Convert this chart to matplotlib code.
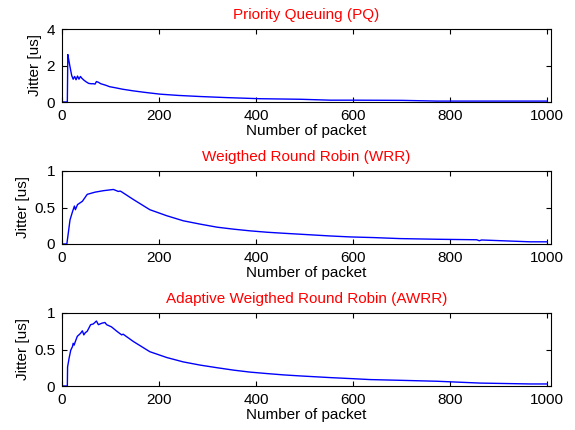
import numpy as np
import matplotlib
matplotlib.use('Agg')
import matplotlib.pyplot as plt

plt.rcParams['font.family'] = ['Liberation Sans', 'DejaVu Sans']
plt.rcParams['font.size'] = 11

# values (packet index, jitter in us)
pq_x = [0, 11, 12, 13, 16, 20, 23, 26, 29, 32, 35, 38, 41, 45, 50, 55, 60, 65, 68, 71,
        75, 80, 90, 98, 110, 125, 147, 170, 202, 240, 285, 340, 408, 491, 553, 600,
        700, 773, 850, 1000]
pq_y = [0, 0, 2.6, 2.45, 2.0, 1.45, 1.25, 1.4, 1.22, 1.42, 1.25, 1.4, 1.3, 1.2, 1.1, 1.02,
        1.0, 1.0, 0.98, 1.12, 1.08, 1.0, 0.92, 0.84, 0.78, 0.7, 0.61, 0.53, 0.43, 0.36,
        0.3, 0.24, 0.18, 0.15, 0.1, 0.1, 0.09, 0.05, 0.05, 0.05]

wrr_x = [0, 10, 12, 16.5, 22, 25.6, 27.6, 32, 42, 52, 68, 85, 106, 116, 120, 123, 147,
         181, 216, 250, 285, 320, 354, 388, 423, 457, 491, 553, 594, 642, 697, 773,
         855, 860, 865, 965, 1000]
wrr_y = [0, 0, 0.1, 0.33, 0.45, 0.52, 0.47, 0.54, 0.585, 0.68, 0.71, 0.73, 0.747, 0.72,
         0.725, 0.714, 0.61, 0.47, 0.387, 0.318, 0.272, 0.23, 0.203, 0.18, 0.161, 0.147,
         0.134, 0.11, 0.097, 0.088, 0.074, 0.065, 0.058, 0.045, 0.055, 0.03, 0.03]

awrr_x = [0, 11, 11.5, 14.6, 18, 21.6, 23, 25, 27, 31.5, 38, 42, 45, 48, 52, 59, 64.5,
          71, 75, 82, 88.5, 92, 102, 113, 123, 126, 147, 181, 216, 250, 285, 320, 354,
          388, 423, 457, 491, 553, 600, 635, 697, 773, 862, 965, 1000]
awrr_y = [0, 0, 0.26, 0.38, 0.49, 0.54, 0.585, 0.56, 0.6, 0.68, 0.72, 0.756, 0.7, 0.73,
          0.75, 0.84, 0.85, 0.89, 0.84, 0.86, 0.87, 0.84, 0.81, 0.75, 0.7, 0.71, 0.61,
          0.47, 0.39, 0.33, 0.286, 0.25, 0.217, 0.19, 0.17, 0.152, 0.138, 0.115, 0.1,
          0.088, 0.078, 0.065, 0.04, 0.028, 0.028]

titles = ['Priority Queuing (PQ)', 'Weigthed Round Robin (WRR)',
          'Adaptive Weigthed Round Robin (AWRR)']
yticks = [[0, 2, 4], [0, 0.5, 1], [0, 0.5, 1]]
ylims = [(0, 4), (0, 1), (0, 1)]
series = [(pq_x, pq_y), (wrr_x, wrr_y), (awrr_x, awrr_y)]

W, H = 575, 430
fig = plt.figure(figsize=(5.75, 4.3), dpi=100)
# axes boxes in pixels: left, top, right, bottom
boxes = [(62, 29, 551, 102), (62, 171, 551, 244), (62, 313, 551, 386)]

for i in range(3):
    l, t, r, b = boxes[i]
    ax = fig.add_axes([l / W, 1 - b / H, (r - l) / W, (b - t) / H])
    x, y = series[i]
    ax.plot(x, y, color='#0000ff', linewidth=1.0)
    ax.set_xlim(0, 1008)
    ax.set_ylim(*ylims[i])
    ax.set_xticks([0, 200, 400, 600, 800, 1000])
    ax.set_yticks(yticks[i])
    ax.set_yticklabels(['0', '2', '4'] if i == 0 else ['0', '0.5', '1'])
    ax.tick_params(direction='in', length=3.5, width=0.8, top=True, right=True,
                   labelsize=11, pad=5)
    for s in ax.spines.values():
        s.set_linewidth(0.8)
    ax.set_title(titles[i], color='#ff0000', fontsize=11, pad=7)
    ax.set_xlabel('Number of packet', fontsize=11, labelpad=1)
    ax.set_ylabel('Jitter [us]', fontsize=11, labelpad=3)

fig.savefig('out.png', dpi=100, facecolor='white')
